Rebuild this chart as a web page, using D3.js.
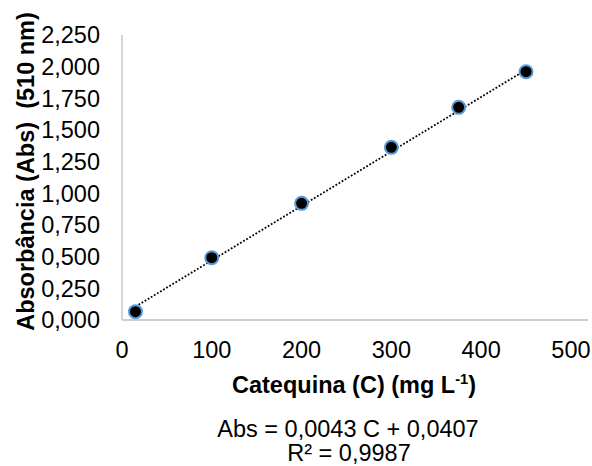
<!DOCTYPE html>
<html>
<head>
<meta charset="utf-8">
<script src="https://cdn.jsdelivr.net/npm/d3@7"></script>
<style>
  html, body { margin: 0; padding: 0; background: #fff; }
  svg { display: block; font-family: "Liberation Sans", Arial, sans-serif; }
</style>
</head>
<body>
<svg id="chart" width="592" height="466"></svg>
<script>
// Calibration data: catechin concentration (mg/L) vs. absorbance at 510 nm
const concentration = [15, 100, 200, 300, 375, 450];
const absorbance = [0.066, 0.492, 0.921, 1.363, 1.679, 1.960];

// Axis ticks
const xTicks = [0, 100, 200, 300, 400, 500];
const yTicks = [0, 0.25, 0.5, 0.75, 1.0, 1.25, 1.5, 1.75, 2.0, 2.25];

// Linear fit reported on the chart
const slope = 0.0043;
const intercept = 0.0407;
const rSquared = 0.9987;

const svg = d3.select("#chart");
const fontSize = 23.5;

const x = d3.scaleLinear().domain([0, 519]).range([122, 588]);
const y = d3.scaleLinear().domain([0, 2.25]).range([320, 35]);

const fmtY = v => d3.format(".3f")(v).replace(".", ",");
const fmtEq = v => v.toString().replace(".", ",");

// Axis lines
svg.append("line")
  .attr("x1", x(0)).attr("x2", x(0))
  .attr("y1", y(0)).attr("y2", y(2.25))
  .attr("stroke", "#BFBFBF").attr("stroke-width", 1.3);
svg.append("line")
  .attr("x1", x(0)).attr("x2", x.range()[1])
  .attr("y1", y(0)).attr("y2", y(0))
  .attr("stroke", "#BFBFBF").attr("stroke-width", 1.3);

// Y tick labels
svg.append("g").selectAll("text")
  .data(yTicks).join("text")
  .attr("x", 100)
  .attr("y", d => y(d))
  .attr("dy", "0.36em")
  .attr("text-anchor", "end")
  .attr("font-size", fontSize)
  .attr("fill", "#000")
  .text(fmtY);

// X tick labels
svg.append("g").selectAll("text")
  .data(xTicks).join("text")
  .attr("x", d => x(d))
  .attr("y", 358)
  .attr("text-anchor", "middle")
  .attr("font-size", fontSize)
  .attr("fill", "#000")
  .text(d => d);

// Trend line (dotted)
const cExtent = d3.extent(concentration);
svg.append("line")
  .attr("x1", x(cExtent[0])).attr("y1", y(slope * cExtent[0] + intercept))
  .attr("x2", x(cExtent[1])).attr("y2", y(slope * cExtent[1] + intercept))
  .attr("stroke", "#000")
  .attr("stroke-width", 1.8)
  .attr("stroke-dasharray", "1.8,1.8");

// Data points
svg.append("g").selectAll("circle")
  .data(concentration.map((c, i) => [c, absorbance[i]]))
  .join("circle")
  .attr("cx", d => x(d[0]))
  .attr("cy", d => y(d[1]))
  .attr("r", 6.5)
  .attr("fill", "#000")
  .attr("stroke", "#5B9BD5")
  .attr("stroke-width", 2);

// Y axis title
svg.append("text")
  .attr("transform", "translate(34,171.5) rotate(-90)")
  .attr("text-anchor", "middle")
  .attr("font-size", fontSize)
  .attr("font-weight", "bold")
  .attr("xml:space", "preserve")
  .style("white-space", "pre")
  .text("Absorbância (Abs)  (510 nm)");

// X axis title with superscript
const xt = svg.append("text")
  .attr("x", 354).attr("y", 393)
  .attr("text-anchor", "middle")
  .attr("font-size", fontSize)
  .attr("font-weight", "bold");
xt.append("tspan").text("Catequina (C) (mg L");
xt.append("tspan").attr("font-size", fontSize * 0.62).attr("dy", -9).text("-1");
xt.append("tspan").attr("dy", 9).text(")");

// Regression equation
svg.append("text")
  .attr("x", 348).attr("y", 437)
  .attr("text-anchor", "middle")
  .attr("font-size", fontSize)
  .text(`Abs = ${fmtEq(slope)} C + ${fmtEq(intercept)}`);
svg.append("text")
  .attr("x", 349).attr("y", 461)
  .attr("text-anchor", "middle")
  .attr("font-size", fontSize)
  .text(`R² = ${fmtEq(rSquared)}`);
</script>
</body>
</html>
